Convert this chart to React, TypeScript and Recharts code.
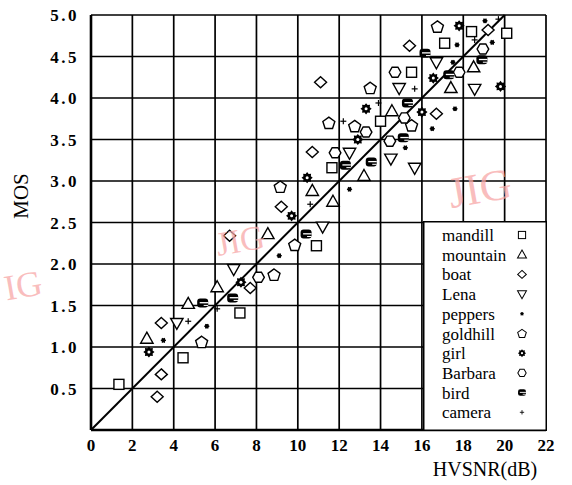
import React from 'react';
import { ScatterChart, Scatter, XAxis, YAxis, CartesianGrid, ReferenceLine, Legend } from 'recharts';

// ---------- data ----------
const xTicks = [0, 2, 4, 6, 8, 10, 12, 14, 16, 18, 20, 22];
const yTicks = [0, 0.5, 1.0, 1.5, 2.0, 2.5, 3.0, 3.5, 4.0, 4.5, 5.0];
const fitLine = [{ x: 0, y: 0 }, { x: 20, y: 5 }];

const mandill = [[1.35, 0.55], [4.45, 0.87], [7.2, 1.41], [10.9, 2.22], [11.65, 3.16], [14.0, 3.72], [15.5, 4.31], [17.1, 4.66], [18.4, 4.8], [20.1, 4.78]];
const mountain = [[2.7, 1.1], [4.7, 1.52], [6.1, 1.72], [8.55, 2.36], [10.7, 2.88], [11.7, 2.75], [13.2, 3.06], [14.55, 3.84], [17.4, 4.12], [18.5, 4.37]];
const boat = [[3.2, 0.4], [3.4, 0.67], [3.4, 1.29], [7.7, 1.71], [6.7, 2.34], [9.2, 2.69], [10.7, 3.35], [11.1, 4.19], [15.4, 4.63], [16.7, 3.81], [19.2, 4.82]];
const lena = [[4.15, 1.29], [6.9, 1.94], [11.2, 2.45], [12.5, 3.34], [14.5, 3.27], [15.65, 3.16], [14.9, 4.12], [16.7, 4.43], [18.55, 4.11]];
const peppers = [[3.5, 1.08], [5.6, 1.25], [9.1, 2.1], [12.5, 2.9], [15.2, 3.4], [16.5, 3.63], [17.6, 3.87], [17.5, 4.43], [17.7, 4.64], [19.4, 4.67], [19.05, 4.93]];
const goldhill = [[5.35, 1.06], [8.85, 1.87], [9.85, 2.23], [9.15, 2.93], [11.5, 3.7], [12.75, 3.66], [15.5, 3.67], [13.5, 4.12], [16.75, 4.86]];
const girl = [[2.8, 0.94], [7.25, 1.78], [9.7, 2.58], [10.45, 3.04], [12.9, 3.5], [13.3, 3.87], [16.0, 3.83], [16.55, 4.24], [17.8, 4.87], [19.8, 4.14]];
const barbara = [[8.1, 1.84], [11.8, 3.34], [13.3, 3.59], [14.45, 3.48], [15.15, 3.76], [14.7, 4.31], [17.8, 4.31], [18.95, 4.59]];
const bird = [[5.4, 1.53], [6.85, 1.59], [10.4, 2.36], [12.3, 3.19], [13.55, 3.23], [15.1, 3.52], [15.3, 3.94], [16.15, 4.54], [17.3, 4.28], [18.9, 4.46]];
const camera = [[4.7, 1.31], [6.1, 1.46], [10.6, 2.72], [12.2, 3.72], [13.9, 3.94], [15.65, 4.11], [18.55, 4.7], [19.7, 4.95]];

// ---------- marker shapes ----------
const K = '#000';
const SW = 1.4;

const poly = (cx: number, cy: number, n: number, r: number, rot: number) =>
  Array.from({ length: n }, (_, i) => {
    const a = rot + (i * 2 * Math.PI) / n;
    return `${cx + r * Math.cos(a)},${cy + r * Math.sin(a)}`;
  }).join(' ');

const SquareM = (cx: number, cy: number) => (
  <rect x={cx - 5} y={cy - 5} width={10} height={10} fill="#fff" stroke={K} strokeWidth={SW} />
);
const TriUpM = (cx: number, cy: number) => (
  <polygon points={`${cx},${cy - 6.5} ${cx + 6.2},${cy + 4.5} ${cx - 6.2},${cy + 4.5}`} fill="#fff" stroke={K} strokeWidth={SW} />
);
const DiamondM = (cx: number, cy: number) => (
  <polygon points={`${cx},${cy - 5.5} ${cx + 6},${cy} ${cx},${cy + 5.5} ${cx - 6},${cy}`} fill="#fff" stroke={K} strokeWidth={SW} />
);
const TriDownM = (cx: number, cy: number) => (
  <polygon points={`${cx - 6.2},${cy - 4.5} ${cx + 6.2},${cy - 4.5} ${cx},${cy + 6.5}`} fill="#fff" stroke={K} strokeWidth={SW} />
);
const StarM = (cx: number, cy: number) => (
  <g stroke={K} strokeWidth={1.1}>
    <circle cx={cx} cy={cy} r={1.6} fill={K} />
    <line x1={cx - 2.6} y1={cy} x2={cx + 2.6} y2={cy} />
    <line x1={cx - 1.3} y1={cy - 2.3} x2={cx + 1.3} y2={cy + 2.3} />
    <line x1={cx + 1.3} y1={cy - 2.3} x2={cx - 1.3} y2={cy + 2.3} />
  </g>
);
const PentagonM = (cx: number, cy: number) => (
  <polygon points={poly(cx, cy + 0.5, 5, 6.3, -Math.PI / 2)} fill="#fff" stroke={K} strokeWidth={SW} />
);
const GirlM = (cx: number, cy: number) => {
  const pts = Array.from({ length: 16 }, (_, i) => {
    const a = (i * Math.PI) / 8;
    const r = i % 2 === 0 ? 5.6 : 4.0;
    return `${cx + r * Math.cos(a)},${cy + r * Math.sin(a)}`;
  }).join(' ');
  return (
    <g>
      <polygon points={pts} fill={K} />
      <circle cx={cx} cy={cy} r={1.5} fill="#fff" />
    </g>
  );
};
const HexM = (cx: number, cy: number) => (
  <polygon points={poly(cx, cy, 6, 5.8, 0)} fill="#fff" stroke={K} strokeWidth={SW} />
);
const BirdM = (cx: number, cy: number) => (
  <g>
    <rect x={cx - 5.5} y={cy - 4.5} width={11} height={9} rx={3} fill={K} />
    <line x1={cx - 3} y1={cy - 0.3} x2={cx + 5.5} y2={cy - 0.3} stroke="#fff" strokeWidth={1.3} />
    <line x1={cx + 1} y1={cy + 2.4} x2={cx + 5.5} y2={cy + 2.4} stroke="#fff" strokeWidth={1} />
  </g>
);
const PlusM = (cx: number, cy: number) => (
  <g stroke={K} strokeWidth={1.2}>
    <line x1={cx - 3} y1={cy} x2={cx + 3} y2={cy} />
    <line x1={cx} y1={cy - 3} x2={cx} y2={cy + 3} />
  </g>
);

const series = [
  { name: 'mandill', data: mandill, m: SquareM },
  { name: 'mountain', data: mountain, m: TriUpM },
  { name: 'boat', data: boat, m: DiamondM },
  { name: 'Lena', data: lena, m: TriDownM },
  { name: 'peppers', data: peppers, m: StarM },
  { name: 'goldhill', data: goldhill, m: PentagonM },
  { name: 'girl', data: girl, m: GirlM },
  { name: 'Barbara', data: barbara, m: HexM },
  { name: 'bird', data: bird, m: BirdM },
  { name: 'camera', data: camera, m: PlusM },
];

const FONT = '"Liberation Serif", "Times New Roman", serif';

const renderLegend = () => (
  <svg width={124} height={210} style={{ display: 'block' }}>
    <rect x={0.75} y={0.75} width={122.5} height={208.5} fill="#fff" stroke={K} strokeWidth={1.5} />
    {series.map((s, i) => (
      <g key={s.name}>
        <text x={19} y={20 + i * 19.7} fontFamily={FONT} fontSize={17} fill={K}>{s.name}</text>
        <g transform={`translate(99, ${14 + i * 19.7}) scale(0.72)`}>{s.m(0, 0)}</g>
      </g>
    ))}
  </svg>
);

export default function App() {
  return (
    <div style={{ position: 'absolute', left: 0, top: 0, width: 572, height: 485, background: '#fff' }}>
      <ScatterChart width={572} height={485} margin={{ top: 15, right: 26, left: 0, bottom: 0 }}>
        <CartesianGrid stroke={K} strokeWidth={1.7} />
        <XAxis
          type="number"
          dataKey="x"
          domain={[0, 22]}
          ticks={xTicks}
          interval={0}
          height={55}
          axisLine={{ stroke: K, strokeWidth: 2.6 }}
          tickLine={false}
          tickSize={4}
          tickMargin={5}
          tick={{ fill: K, fontFamily: FONT, fontWeight: 700, fontSize: 17 }}
          label={{
            content: () => (
              <text x={485} y={476} textAnchor="middle" fontFamily={FONT} fontSize={20} fill={K}>HVSNR(dB)</text>
            ),
          }}
        />
        <YAxis
          type="number"
          dataKey="y"
          domain={[0, 5]}
          ticks={yTicks}
          interval={0}
          width={91}
          axisLine={{ stroke: K, strokeWidth: 2.6 }}
          tickLine={false}
          tickSize={6}
          tickMargin={6}
          tickFormatter={(v: number) => (v === 0 ? '' : v.toFixed(1))}
          tick={{ fill: K, fontFamily: FONT, fontWeight: 700, fontSize: 17, letterSpacing: 2.5 }}
          label={{
            content: () => (
              <text x={28} y={196} transform="rotate(-90, 28, 196)" textAnchor="middle" fontFamily={FONT} fontSize={21} fill={K}>MOS</text>
            ),
          }}
        />
        <ReferenceLine segment={fitLine} stroke={K} strokeWidth={2} ifOverflow="visible" />
        {series.map((s) => (
          <Scatter
            key={s.name}
            name={s.name}
            data={s.data.map(([x, y]) => ({ x, y }))}
            isAnimationActive={false}
            shape={(p: any) => s.m(p.cx, p.cy)}
          />
        ))}
        <Legend
          layout="vertical"
          align="center"
          verticalAlign="middle"
          wrapperStyle={{ left: 423, top: 221, width: 124, height: 210 }}
          content={renderLegend}
        />
      </ScatterChart>
      <svg width={572} height={485} style={{ position: 'absolute', left: 0, top: 0, pointerEvents: 'none' }}>
        <g fill="#f7a8a8" fillOpacity={0.75} fontFamily={FONT}>
          <text x={480} y={203} fontSize={44} textAnchor="middle" transform="rotate(-10, 480, 190)">JIG</text>
          <text x={240} y={252} fontSize={34} textAnchor="middle" transform="rotate(-10, 240, 240)">JIG</text>
          <text x={4} y={298} fontSize={36} textAnchor="start" transform="rotate(-10, 20, 285)">IG</text>
        </g>
      </svg>
    </div>
  );
}
